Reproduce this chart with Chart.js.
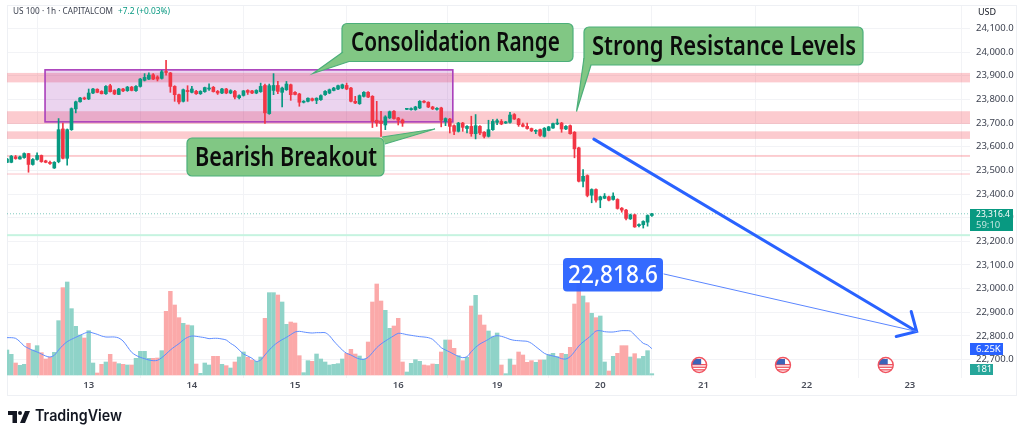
<!DOCTYPE html>
<html>
<head>
<meta charset="utf-8">
<title>US 100 1h</title>
<script src="https://cdn.jsdelivr.net/npm/chart.js@4/dist/chart.umd.min.js"></script>
<style>
    html, body { margin: 0; padding: 0; background: #fff; }
    #wrap { position: relative; width: 1024px; height: 438px; }
</style>
</head>
<body>
<div id="wrap"><canvas id="usChart"></canvas></div>
<script>
// Hourly candles
const opens = [23534,23534,23557,23548,23554,23571,23525,23546,23563,23540,23534,23510,23537,23675,23551,23672,23760,23790,23806,23802,
    23827,23843,23834,23824,23858,23838,23821,23844,23837,23852,23837,23855,23881,23886,23904,23895,23889,23917,23912,23855,
    23820,23792,23838,23830,23834,23824,23833,23844,23851,23834,23827,23844,23827,23834,23807,23817,23838,23836,23827,23833,
    23859,23740,23838,23859,23830,23841,23862,23830,23823,23788,23792,23803,23796,23799,23820,23827,23838,23844,23848,23859,
    23848,23792,23782,23813,23830,23813,23712,23709,23692,23722,23750,23722,23713,23758,23757,23757,23764,23792,23788,23768,
    23758,23764,23707,23717,23689,23665,23700,23677,23686,23655,23686,23661,23644,23672,23703,23707,23700,23703,23736,23717,
    23693,23686,23677,23665,23672,23644,23669,23679,23696,23700,23675,23689,23661,23595,23454,23478,23395,23419,23375,23382,
    23388,23377,23377,23340,23332,23295,23312,23266,23270,23281,23309.2];
const highs = [23551,23563,23563,23560,23574,23572,23550,23574,23565,23543,23539,23537,23719,23700,23675,23764,23793,23809,23810,23844,
    23847,23845,23837,23859,23864,23841,23847,23847,23855,23855,23858,23889,23909,23912,23909,23900,23923,23965,23914,23858,
    23823,23844,23858,23855,23838,23837,23852,23866,23855,23838,23847,23847,23841,23838,23819,23838,23841,23838,23841,23869,
    23865,23865,23909,23876,23852,23876,23865,23833,23826,23795,23807,23806,23807,23819,23837,23844,23851,23861,23865,23869,
    23851,23813,23819,23833,23833,23816,23792,23750,23731,23751,23753,23724,23717,23761,23764,23771,23795,23795,23790,23771,
    23765,23767,23722,23720,23692,23703,23703,23689,23729,23736,23689,23664,23712,23715,23717,23715,23707,23745,23740,23720,
    23700,23700,23679,23672,23675,23681,23686,23700,23717,23703,23689,23692,23664,23598,23503,23481,23422,23422,23391,23402,
    23391,23405,23380,23343,23335,23315,23315,23274,23287,23312,23318];
const lows = [23532,23532,23547,23547,23551,23492,23522,23543,23534,23532,23525,23508,23532,23548,23522,23669,23743,23788,23799,23799,
    23824,23828,23823,23821,23831,23820,23820,23833,23834,23836,23834,23852,23878,23883,23883,23878,23886,23903,23830,23792,
    23781,23789,23792,23827,23821,23821,23830,23838,23831,23821,23824,23824,23824,23802,23802,23814,23821,23824,23824,23830,
    23698,23737,23820,23824,23768,23838,23796,23819,23771,23785,23789,23793,23782,23796,23817,23824,23836,23841,23845,23841,
    23789,23782,23779,23810,23807,23681,23686,23644,23672,23719,23716,23692,23686,23757,23754,23754,23761,23785,23765,23757,
    23755,23684,23689,23658,23651,23662,23665,23658,23644,23633,23651,23637,23641,23669,23693,23693,23698,23700,23715,23686,
    23684,23674,23664,23655,23644,23641,23667,23677,23693,23661,23672,23653,23553,23451,23430,23388,23363,23366,23342,23380,
    23371,23374,23336,23323,23290,23292,23259,23261,23256,23264,23305];
const closes = [23548,23560,23550,23557,23571,23525,23546,23563,23537,23534,23529,23534,23672,23551,23672,23761,23790,23806,23802,23827,
    23844,23830,23824,23855,23833,23823,23844,23836,23852,23838,23855,23886,23893,23903,23886,23886,23917,23914,23855,23820,
    23789,23841,23833,23844,23824,23834,23850,23848,23833,23827,23844,23827,23837,23810,23816,23836,23830,23827,23838,23855,
    23743,23858,23859,23834,23848,23865,23820,23821,23788,23792,23805,23796,23805,23816,23834,23841,23848,23858,23862,23844,
    23792,23785,23816,23830,23810,23707,23700,23698,23726,23748,23719,23712,23700,23760,23761,23768,23792,23788,23768,23760,
    23762,23712,23719,23686,23665,23700,23682,23686,23655,23689,23658,23644,23672,23707,23710,23696,23705,23734,23717,23693,
    23686,23677,23667,23669,23648,23678,23684,23698,23700,23675,23686,23655,23591,23454,23475,23394,23419,23374,23388,23391,
    23374,23391,23339,23332,23297,23312,23261,23271,23284,23309.2,23316.4];

const volumes = [6000,4960,2880,2320,2560,7600,6000,7040,5360,3840,4240,5440,13040,20960,22320,15920,11680,9600,8880,10640,
    2880,480,2560,3120,4960,3120,2720,2560,2400,2400,4000,5680,5680,4000,4000,4080,5840,15280,20080,16800,
    13760,12400,12000,11840,2640,400,2880,2400,4480,4480,2560,2240,1680,3120,4320,5520,4240,3600,3280,4320,
    13600,19760,19760,19200,17520,12160,12720,12480,4640,560,3440,3280,5040,3840,3120,2400,2560,2720,3840,5200,
    6160,5040,4560,3840,7920,17520,21840,17760,15520,11200,11760,13600,3120,720,2800,3680,3280,2400,2240,2640,
    2560,5520,8400,8400,6400,4640,3440,4240,16560,19120,14400,12000,10560,9200,10080,2400,320,3840,2400,5520,
    4800,3040,3440,3040,3600,3600,4880,5200,4400,5200,4960,6640,17040,22560,18960,17360,14800,13760,14160,3120,
    960,4480,5200,7040,7040,4320,5120,3920,4480,5840,320];
const volumeMA = [8960,8960,8800,8000,6960,6400,5920,5520,5040,4560,4320,4720,6000,7120,8000,8560,9040,9520,10000,10320,
    10080,9760,9360,9120,9120,9120,8880,8160,6800,5440,4720,4240,3920,3600,3440,3520,4160,5040,6000,6800,
    7520,8400,9040,9360,9280,9120,8960,8720,8800,8800,8640,8400,7600,6960,6000,5040,4560,4000,3280,3600,
    4800,6000,7040,7840,8480,9040,9680,10320,10480,10320,10160,10080,10160,10160,10160,9440,8160,7040,6000,5200,
    4800,4240,3840,3760,4240,5360,6560,7440,8160,8800,9440,10000,9920,9680,9520,9360,9200,9120,8960,8560,
    7600,6560,6000,5520,4960,4480,4160,4400,5600,6640,7440,8000,8560,9200,9440,9280,8960,8560,8320,8240,
    8160,8080,7600,6800,6000,5200,4800,4560,4320,3920,3840,4400,5600,6960,7920,8720,9600,10560,10640,10400,
    10320,10320,10480,10640,10640,10560,9600,8560,7600,7200,6320];

const priceTicks = [22700,22800,22900,23000,23100,23200,23300,23400,23500,23600,23700,23800,23900,24000,24100];
const dayLabels = ['13','14','15','16','19','20','21','22','23'];
const dayIndexes = [19,43,67,91,114,138,162,186,210];
const TOTAL_SLOTS = 225;

// Resistance zones as [top, bottom] prices
const zones = [[23912,23872],[23750,23696],[23665,23633],[23565,23557],[23487,23482]];
const supportLine = 23226;
const lastPrice = 23316.4;
const targetPrice = 22818.6;
const rangeBox = { fromIndex: 8.85, toIndex: 103.7, top: 23925, bottom: 23705 };
const arrowFrom = { index: 136.5, price: 23632 };
const arrowTo = { index: 211.6, price: targetPrice };
const eventSlots = [161, 180.5, 204.4];

const GREEN = '#089981';
const RED = '#f23645';
const BLUE = '#2962ff';
const GRID = '#f2f3f6';
const FONT = '"Noto Sans", sans-serif';

const labels = [];
for (let i = 0; i < TOTAL_SLOTS; i++) labels.push(i);

const candleColors = closes.map((c, i) => c >= opens[i] ? GREEN : RED);
const volumeColors = closes.map((c, i) => c >= opens[i] ? '#8fd3c8' : '#fba9a9');

function text(ctx, str, x, y, font, color, align, maxWidth) {
    ctx.font = font;
    ctx.fillStyle = color;
    ctx.textAlign = align || 'left';
    ctx.textBaseline = 'middle';
    if (maxWidth) ctx.fillText(str, x, y, maxWidth);
    else ctx.fillText(str, x, y);
}

function callout(ctx, str, box, tip, a, b, textX, textWidth) {
    ctx.fillStyle = '#81c784';
    ctx.strokeStyle = '#4caf7a';
    ctx.lineWidth = 1.2;
    ctx.beginPath();
    ctx.roundRect(box.x, box.y, box.w, box.h, 5);
    ctx.fill();
    ctx.stroke();
    ctx.beginPath();
    ctx.moveTo(a[0], a[1]);
    ctx.lineTo(tip[0], tip[1]);
    ctx.lineTo(b[0], b[1]);
    ctx.closePath();
    ctx.fill();
    ctx.beginPath();
    ctx.moveTo(a[0], a[1]);
    ctx.lineTo(tip[0], tip[1]);
    ctx.lineTo(b[0], b[1]);
    ctx.stroke();
    text(ctx, str, textX, box.y + box.h / 2 + 1, '600 27px ' + FONT, '#0b0b0b', 'left', textWidth);
}

function drawFlag(ctx, cx, cy) {
    ctx.save();
    ctx.beginPath();
    ctx.arc(cx, cy, 7.5, 0, Math.PI * 2);
    ctx.fillStyle = '#fff';
    ctx.fill();
    ctx.clip();
    ctx.fillStyle = '#f0535f';
    for (let i = 0; i < 3; i++) ctx.fillRect(cx - 8, cy - 1 + i * 2.6, 16, 1.3);
    ctx.fillStyle = '#3c63b8';
    ctx.fillRect(cx - 8, cy - 6, 10, 5.5);
    ctx.restore();
    ctx.beginPath();
    ctx.arc(cx, cy, 7.5, 0, Math.PI * 2);
    ctx.strokeStyle = '#f0535f';
    ctx.lineWidth = 1.4;
    ctx.stroke();
}

function drawLogo(ctx) {
    ctx.fillStyle = '#131722';
    ctx.fillRect(8, 411, 9, 4);
    ctx.fillRect(12.5, 411, 4.5, 12);
    ctx.beginPath();
    ctx.arc(20, 413, 2, 0, Math.PI * 2);
    ctx.fill();
    ctx.beginPath();
    ctx.moveTo(25, 411);
    ctx.lineTo(30, 411);
    ctx.lineTo(25, 423);
    ctx.lineTo(20, 423);
    ctx.closePath();
    ctx.fill();
    text(ctx, 'TradingView', 35, 416.5, '600 15.5px Inter, ' + FONT, '#131722', 'left', 87);
}

// Zones and the consolidation box sit under the candles
const underlay = {
    id: 'underlay',
    beforeDatasetsDraw(chart) {
        const { ctx, chartArea, scales } = chart;
        const y = scales.y, x = scales.x;
        ctx.save();
        // outer frame of the picture
        ctx.strokeStyle = '#eef0f4';
        ctx.lineWidth = 1;
        ctx.strokeRect(7.5, 5.5, 1009, 390);
        ctx.beginPath();
        ctx.rect(chartArea.left, chartArea.top, chartArea.width, chartArea.height);
        ctx.clip();
        zones.forEach(z => {
            const top = y.getPixelForValue(z[0]);
            const bottom = y.getPixelForValue(z[1]);
            ctx.fillStyle = 'rgba(242,54,69,0.26)';
            ctx.fillRect(chartArea.left, top, chartArea.width, bottom - top);
        });
        const sy = y.getPixelForValue(supportLine);
        ctx.fillStyle = '#c6f4e0';
        ctx.fillRect(chartArea.left, sy - 1, chartArea.width, 2);
        // dotted last price line
        const ly = y.getPixelForValue(lastPrice);
        ctx.strokeStyle = GREEN;
        ctx.globalAlpha = 0.5;
        ctx.setLineDash([1, 2]);
        ctx.beginPath();
        ctx.moveTo(chartArea.left, ly);
        ctx.lineTo(chartArea.right, ly);
        ctx.stroke();
        ctx.setLineDash([]);
        ctx.globalAlpha = 1;
        const bx = x.getPixelForValue(rangeBox.fromIndex);
        const bw = x.getPixelForValue(rangeBox.toIndex) - bx;
        const by = y.getPixelForValue(rangeBox.top);
        const bh = y.getPixelForValue(rangeBox.bottom) - by;
        ctx.fillStyle = 'rgba(156,39,176,0.2)';
        ctx.fillRect(bx, by, bw, bh);
        ctx.strokeStyle = '#aa3fbb';
        ctx.lineWidth = 1.6;
        ctx.strokeRect(bx, by, bw, bh);
        ctx.restore();
    }
};

// Callouts, arrow, price tags and header go on top
const overlay = {
    id: 'overlay',
    afterDatasetsDraw(chart) {
        const { ctx, scales } = chart;
        const x = scales.x, y = scales.y;
        ctx.save();

        text(ctx, 'US 100 · 1h · CAPITALCOM', 13, 11.5, '9.5px ' + FONT, '#3d4250', 'left', 100);
        text(ctx, '+7.2 (+0.03%)', 118, 11.5, '9.5px ' + FONT, GREEN, 'left', 52);
        text(ctx, 'USD', 978, 12.5, '9px ' + FONT, '#131722');

        callout(ctx, 'Consolidation Range', { x: 342, y: 23.5, w: 231, h: 38 }, [313, 73.5], [343, 52], [349, 61.5], 351, 209);
        callout(ctx, 'Strong Resistance Levels', { x: 584, y: 27, w: 279, h: 38 }, [576.5, 111.5], [584, 58], [591, 65], 592, 264);
        callout(ctx, 'Bearish Breakout', { x: 187, y: 138, w: 197, h: 38 }, [435, 129], [382, 137], [385, 144], 195, 182);

        // target arrow
        const ax = x.getPixelForValue(arrowFrom.index), ay = y.getPixelForValue(arrowFrom.price);
        const tx = x.getPixelForValue(arrowTo.index), ty = y.getPixelForValue(arrowTo.price);
        ctx.strokeStyle = BLUE;
        ctx.lineWidth = 3;
        ctx.lineCap = 'round';
        ctx.beginPath();
        ctx.moveTo(ax, ay);
        ctx.lineTo(tx, ty);
        ctx.moveTo(tx - 5.5, ty - 20);
        ctx.lineTo(tx, ty);
        ctx.lineTo(tx - 20.5, ty + 5);
        ctx.stroke();

        // thin link from the target label to the arrow head
        ctx.lineWidth = 1;
        ctx.strokeStyle = '#5b86ff';
        ctx.beginPath();
        ctx.moveTo(664, 274);
        ctx.lineTo(tx, ty);
        ctx.stroke();

        ctx.fillStyle = BLUE;
        ctx.globalAlpha = 0.95;
        ctx.beginPath();
        ctx.roundRect(563, 258, 100, 33.5, 4);
        ctx.fill();
        ctx.globalAlpha = 1;
        text(ctx, targetPrice.toLocaleString('en-US', { minimumFractionDigits: 1 }), 613, 275.5, '500 26px ' + FONT, '#fff', 'center', 90);

        eventSlots.forEach(slot => drawFlag(ctx, x.getPixelForValue(slot), 365));

        // axis tags
        ctx.fillStyle = GREEN;
        ctx.fillRect(970, 209, 43, 22);
        text(ctx, lastPrice.toLocaleString('en-US', { minimumFractionDigits: 1 }), 976, 214.5, '9.5px ' + FONT, '#fff', 'left', 34);
        text(ctx, '59:10', 976, 225, '9.5px ' + FONT, '#bfe6df');
        ctx.fillStyle = BLUE;
        ctx.fillRect(970, 343, 33, 12);
        text(ctx, '6.25K', 976, 349, '9.5px ' + FONT, '#fff');
        ctx.fillStyle = '#26a69a';
        ctx.fillRect(970, 364, 23, 11);
        text(ctx, '181', 976, 369.5, '9.5px ' + FONT, '#fff');

        drawLogo(ctx);
        ctx.restore();
    }
};

new Chart(document.getElementById('usChart'), {
    type: 'bar',
    data: {
        labels: labels,
        datasets: [
            {
                label: 'Volume MA',
                type: 'line',
                data: volumeMA,
                yAxisID: 'yVol',
                borderColor: '#5f8dff',
                borderWidth: 1,
                pointRadius: 0,
                tension: 0.3,
                order: 1
            },
            {
                label: 'Body',
                data: closes.map((c, i) => [opens[i], c]),
                yAxisID: 'y',
                backgroundColor: candleColors,
                barThickness: 3,
                minBarLength: 1,
                grouped: false,
                order: 2
            },
            {
                label: 'Wick',
                data: highs.map((h, i) => [lows[i], h]),
                yAxisID: 'y',
                backgroundColor: candleColors,
                barThickness: 1,
                grouped: false,
                order: 3
            },
            {
                label: 'Volume',
                data: volumes,
                yAxisID: 'yVol',
                backgroundColor: volumeColors,
                barThickness: 3.8,
                grouped: false,
                order: 4
            }
        ]
    },
    options: {
        responsive: true,
        maintainAspectRatio: false,
        animation: false,
        layout: { padding: { left: 7, top: 6, right: 0, bottom: 0 } },
        plugins: { legend: { display: false }, tooltip: { enabled: false } },
        scales: {
            x: {
                type: 'category',
                offset: false,
                afterBuildTicks: s => { s.ticks = dayIndexes.map(v => ({ value: v })); },
                afterFit: s => { s.height = 60; },
                grid: { color: GRID, drawTicks: false },
                border: { display: false },
                ticks: {
                    autoSkip: false,
                    maxRotation: 0,
                    padding: 2,
                    color: '#4a4e5a',
                    font: { family: 'Noto Sans', size: 9.5, weight: '600' },
                    callback: (v, i) => dayLabels[i]
                }
            },
            y: {
                position: 'right',
                min: 22622,
                max: 24195,
                afterBuildTicks: s => { s.ticks = priceTicks.map(v => ({ value: v })); },
                afterFit: s => { s.width = 54; s.paddingTop = 0; s.paddingBottom = 0; },
                grid: { color: GRID, drawTicks: false },
                border: { display: false },
                ticks: {
                    padding: 6,
                    color: '#3d4250',
                    font: { family: 'Noto Sans', size: 9.5 },
                    callback: v => v.toLocaleString('en-US', { minimumFractionDigits: 1 })
                }
            },
            yVol: {
                display: false,
                min: -720,
                max: 88560
            }
        }
    },
    plugins: [underlay, overlay]
});
</script>
</body>
</html>
